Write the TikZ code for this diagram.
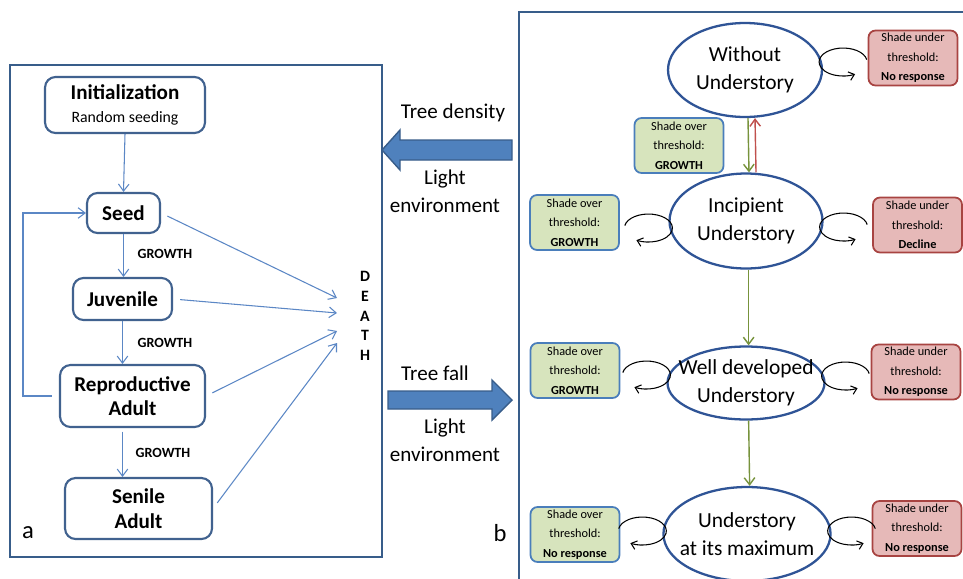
\documentclass[tikz,border=0pt]{standalone}
\usepackage{fontspec}
\setmainfont{Carlito}
\usepackage{xcolor}
\usepackage{tikz}
\usetikzlibrary{arrows.meta,shapes.geometric}
\definecolor{frameblue}{HTML}{385D8A}
\definecolor{boxblue}{HTML}{41628F}
\definecolor{flowblue}{HTML}{5B87C5}
\definecolor{ellblue}{HTML}{2F5496}
\definecolor{overfill}{HTML}{D7E4BD}
\definecolor{overline}{HTML}{4A7EBB}
\definecolor{underfill}{HTML}{E6B9B8}
\definecolor{underline}{HTML}{A84442}
\definecolor{growgreen}{HTML}{77933C}
\definecolor{backred}{HTML}{C0504D}
\definecolor{bigfill}{HTML}{4F81BD}
\definecolor{bigline}{HTML}{385D8A}
\tikzset{
  panel/.style={draw=frameblue, line width=1.3pt},
  stage/.style={draw=boxblue, line width=1.2pt, rounded corners=6pt, fill=white, align=center, inner sep=0pt, font=\bfseries\fontsize{12}{14}\selectfont},
  flow/.style={draw=flowblue, line width=0.6pt, -{Straight Barb[length=4pt,width=6pt]}},
  grw/.style={font=\bfseries\fontsize{8}{9}\selectfont},
  state/.style={ellipse, draw=ellblue, line width=1.3pt, fill=white, inner sep=0pt, align=center, font=\fontsize{12.2}{16}\selectfont},
  overbox/.style={draw=overline, fill=overfill, line width=1pt, rounded corners=4pt, minimum width=1.78cm, minimum height=1.1cm, inner sep=0pt, align=center, font=\fontsize{7}{11}\selectfont},
  underbox/.style={overbox, draw=underline, fill=underfill},
  lp/.style={draw=black, line width=0.6pt, -{Straight Barb[length=3pt,width=5pt]}},
  fwd/.style={draw=growgreen, line width=0.8pt, -{Straight Barb[length=4pt,width=6pt]}},
  rev/.style={draw=backred, line width=0.8pt, -{Straight Barb[length=4pt,width=6pt]}},
  big/.style={fill=bigfill, draw=bigline, line width=0.8pt},
  lab/.style={font=\fontsize{12}{13}\selectfont, align=center},
  tag/.style={font=\fontsize{14}{14}\selectfont},
}

\begin{document}
\begin{tikzpicture}[x=0.02cm, y=0.02cm]
  \useasboundingbox (0,0) rectangle (963,-578);
  \fill[white] (0,0) rectangle (963,-578);

  \draw[panel] (10,-65) rectangle (382,-557);
  \node[stage, minimum width=3.2cm, minimum height=1.12cm] (init) at (125,-105)
    {Initialization\\[-1pt]{\mdseries\fontsize{9}{11}\selectfont Random seeding}};
  \node[stage, minimum width=1.46cm, minimum height=0.8cm] (seed) at (123.5,-213) {Seed};
  \node[stage, minimum width=1.98cm, minimum height=0.84cm] (juv) at (122.5,-299) {Juvenile};
  \node[stage, minimum width=2.9cm, minimum height=1.24cm] (rep) at (132.5,-396) {Reproductive\\Adult};
  \node[stage, minimum width=2.94cm, minimum height=1.22cm] (sen) at (138.5,-508.5) {Senile\\Adult};
  \node[grw] (g1) at (165,-254) {GROWTH};
  \node[grw] (g2) at (165,-343) {GROWTH};
  \node[grw] (g3) at (163,-453) {GROWTH};
  \node[font=\bfseries\fontsize{9}{11.3}\selectfont, align=center] (death) at (365,-316) {D\\E\\A\\T\\H};
  \node[tag] (pa) at (28,-533) {a};

  \draw[flow] (init.south) -- (seed.north);
  \draw[flow] (seed.south) -- (seed.south |- juv.north);
  \draw[flow] (juv.south) -- (juv.south |- rep.north);
  \draw[flow] ([yshift=-2pt]juv.south |- rep.south) -- (juv.south |- sen.north);
  \coordinate (fb) at (23,-396);
  \draw[flow, shorten <=4pt] (rep.west) -- (fb) |- (seed.west);
  \coordinate (d1) at (337,-298);
  \coordinate (d2) at (337,-313);
  \coordinate (d3) at (337,-331);
  \coordinate (d4) at (337,-343);
  \draw[flow, shorten <=4pt] (seed.east) -- (d1);
  \draw[flow, shorten <=4pt] (juv.east) -- (d2);
  \draw[flow, shorten <=4pt] (rep.east) -- (d3);
  \draw[flow, shorten <=4pt] (sen.east) -- (d4);

  \node[lab] (dens) at (453,-113) {Tree density};
  \node[lab] (env1) at (445,-191) {Light\\[3pt]environment};
  \draw[big] (382,-150) -- (400,-130) -- (400,-140) -- (512,-140) -- (512,-160) -- (400,-160) -- (400,-170) -- cycle;
  \node[lab] (fall) at (435,-373) {Tree fall};
  \node[lab] (env2) at (445,-440) {Light\\[3pt]environment};
  \draw[big] (512,-400) -- (492,-380) -- (492,-391) -- (388,-391) -- (388,-409) -- (492,-409) -- (492,-420) -- cycle;

  \draw[panel] (519,-12) rectangle (990,-600);
  \node[state, minimum width=3.08cm, minimum height=1.88cm] (w1) at (745,-70) {Without\\Understory};
  \node[state, minimum width=3.06cm, minimum height=1.9cm] (w2) at (746,-221) {Incipient\\Understory};
  \node[state, inner xsep=-7.7pt, minimum width=3.14cm, minimum height=1.46cm] (w3) at (746,-383) {Well developed\\Understory};
  \node[state, inner xsep=-4.6pt, minimum width=3.18cm, minimum height=1.88cm] (w4) at (747,-534) {Understory\\at its maximum};
  \node[tag] (pb) at (500,-533) {b};

  \node[overbox] (o1) at (679,-145.5) {Shade over\\threshold:\\\textbf{GROWTH}};
  \node[overbox] (o2) at (574.5,-222.5) {Shade over\\threshold:\\\textbf{GROWTH}};
  \node[overbox] (o3) at (575,-370.5) {Shade over\\threshold:\\\textbf{GROWTH}};
  \node[overbox] (o4) at (575,-534.5) {Shade over\\threshold:\\\textbf{No response}};
  \node[underbox] (u1) at (913,-58) {Shade under\\threshold:\\\textbf{No response}};
  \node[underbox] (u2) at (917.5,-225) {Shade under\\threshold:\\\textbf{Decline}};
  \node[underbox] (u3) at (916,-372) {Shade under\\threshold:\\\textbf{No response}};
  \node[underbox] (u4) at (917,-528.5) {Shade under\\threshold:\\\textbf{No response}};

  \draw[fwd] ([xshift=1.7pt]w1.south) -- ([xshift=1.7pt]w2.north);
  \draw[rev] ([xshift=5.7pt]w2.north) -- ([xshift=5.7pt]w1.south);
  \draw[fwd] ([xshift=1.5pt]w2.south) -- ([xshift=1.5pt]w3.north);
  \draw[fwd] ([xshift=1.5pt]w3.south) -- ([xshift=1.5pt]w4.north);

  \draw[lp] ([shift={(43.6,10.4)}]w1.east) arc[start angle=10, end angle=300, x radius=24, y radius=14];
  \draw[lp] ([shift={(43.6,-3.6)}]w2.east) arc[start angle=10, end angle=300, x radius=24, y radius=14];
  \draw[lp] ([shift={(43.6,9.4)}]w3.east) arc[start angle=10, end angle=300, x radius=24, y radius=14];
  \draw[lp] ([shift={(43.6,5.4)}]w4.east) arc[start angle=10, end angle=300, x radius=24, y radius=14];
  \draw[lp] ([shift={(-43.6,-4.6)}]w2.west) arc[start angle=170, end angle=-120, x radius=24, y radius=14];
  \draw[lp] ([shift={(-43.6,10.4)}]w3.west) arc[start angle=170, end angle=-120, x radius=24, y radius=14];
  \draw[lp] ([shift={(-43.6,5.4)}]w4.west) arc[start angle=170, end angle=-120, x radius=24, y radius=14];
\end{tikzpicture}
\end{document}
